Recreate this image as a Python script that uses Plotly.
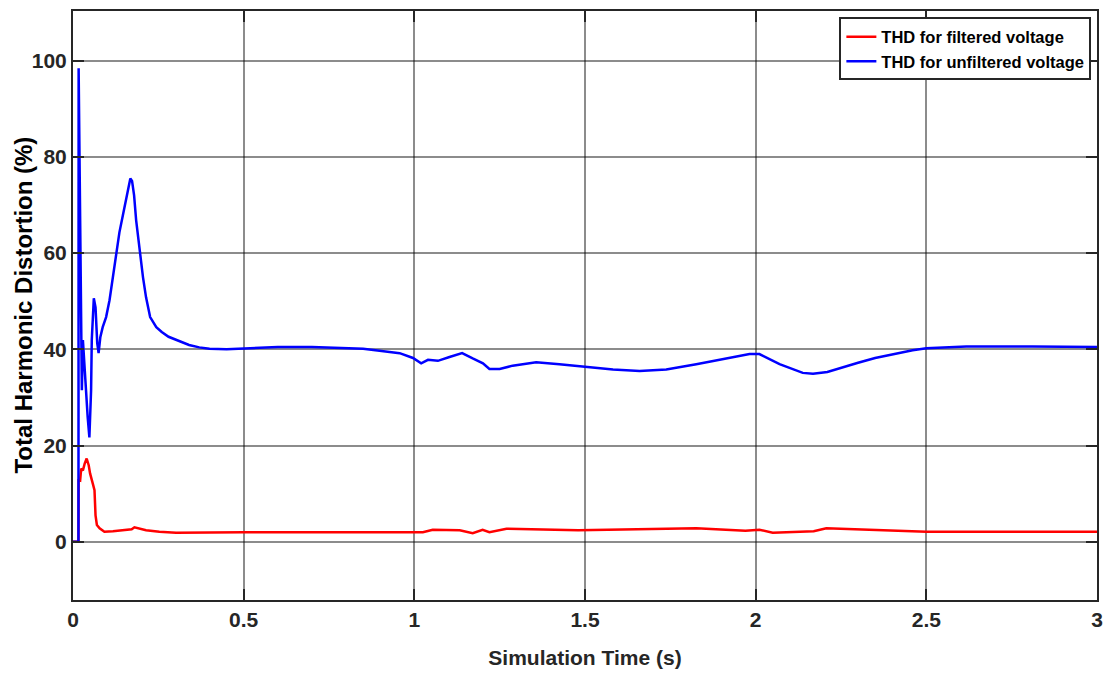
import plotly.graph_objects as go

# ---- data ----
t_unfiltered = [0, 0.016, 0.0165, 0.021, 0.023, 0.026, 0.029, 0.034, 0.039, 0.043,
                0.048, 0.053, 0.055, 0.061, 0.066, 0.071, 0.075, 0.080, 0.087, 0.097,
                0.107, 0.117, 0.127, 0.136, 0.146, 0.156, 0.163, 0.168, 0.173, 0.179,
                0.185, 0.195, 0.205, 0.214, 0.226, 0.244, 0.26, 0.28, 0.30, 0.32,
                0.34, 0.37, 0.40, 0.45, 0.50, 0.55, 0.60, 0.70, 0.80, 0.85,
                0.898, 0.957, 0.996, 1.020, 1.040, 1.069, 1.103, 1.140, 1.171, 1.201,
                1.220, 1.25, 1.288, 1.357, 1.425, 1.499, 1.582, 1.66, 1.738, 1.826,
                1.923, 1.982, 2.011, 2.07, 2.138, 2.168, 2.21, 2.246, 2.30, 2.35,
                2.42, 2.46, 2.50, 2.617, 2.81, 3.0]
thd_unfiltered = [0, 0, 98.4, 60.6, 45.4, 31.5, 41.9, 35.6, 30.0, 25.9,
                  21.7, 31.5, 41.9, 50.6, 48.7, 41.3, 39.2, 42.5, 44.6, 46.7,
                  50.2, 55.0, 59.9, 64.3, 67.8, 71.6, 74.0, 75.5, 75.0, 72.0,
                  66.8, 60.6, 55.0, 50.8, 46.7, 44.6, 43.6, 42.6, 42.0, 41.4,
                  40.9, 40.4, 40.1, 40.0, 40.2, 40.3, 40.5, 40.5, 40.3, 40.1,
                  39.7, 39.2, 38.2, 37.1, 37.8, 37.6, 38.4, 39.2, 38.1, 37.1,
                  35.9, 35.9, 36.6, 37.3, 36.9, 36.4, 35.8, 35.5, 35.8, 36.9,
                  38.3, 39.0, 39.0, 36.9, 35.1, 34.9, 35.3, 36.1, 37.2, 38.2,
                  39.3, 39.8, 40.2, 40.6, 40.6, 40.5]

t_filtered = [0, 0.016, 0.0165, 0.021, 0.024, 0.029, 0.034, 0.040, 0.046, 0.050,
              0.058, 0.063, 0.066, 0.070, 0.078, 0.092, 0.117, 0.156, 0.172, 0.180,
              0.195, 0.214, 0.253, 0.302, 0.50, 0.70, 1.0, 1.025, 1.054, 1.10,
              1.133, 1.171, 1.20, 1.22, 1.27, 1.48, 1.70, 1.826, 1.97, 2.011,
              2.05, 2.17, 2.207, 2.246, 2.5, 3.0]
thd_filtered = [0, 0, 13.0, 12.8, 15.2, 14.8, 16.2, 17.3, 15.9, 14.2,
                12.1, 10.7, 5.5, 3.5, 2.8, 2.1, 2.2, 2.4, 2.6, 3.0,
                2.7, 2.4, 2.1, 1.9, 2.0, 2.0, 2.1, 2.0, 2.5, 2.5,
                2.4, 1.8, 2.5, 2.0, 2.7, 2.4, 2.6, 2.8, 2.3, 2.5,
                1.9, 2.2, 2.8, 2.7, 2.1, 2.1]

x_ticks = [0, 0.5, 1, 1.5, 2, 2.5, 3]
x_tick_labels = ["0", "0.5", "1", "1.5", "2", "2.5", "3"]
y_ticks = [0, 20, 40, 60, 80, 100]
y_tick_labels = ["0", "20", "40", "60", "80", "100"]

FONT = "Liberation Sans, Arial, sans-serif"
DARK = "#262626"

fig = go.Figure()
fig.add_trace(go.Scatter(x=t_filtered, y=thd_filtered, mode="lines",
                         name="<b>THD for filtered voltage</b>",
                         line=dict(color="#FF0000", width=2.5)))
fig.add_trace(go.Scatter(x=t_unfiltered, y=thd_unfiltered, mode="lines",
                         name="<b>THD for unfiltered voltage</b>",
                         line=dict(color="#0000FF", width=2.5)))

axis_common = dict(
    showline=True, linecolor=DARK, linewidth=2, mirror="ticks",
    ticks="inside", ticklen=11, tickwidth=2, tickcolor=DARK,
    showgrid=True, gridcolor="rgba(0,0,0,0.45)", gridwidth=2,
    zeroline=False,
    tickfont=dict(family=FONT, size=21, color=DARK),
)

fig.update_xaxes(range=[0, 3], tickvals=x_ticks, ticktext=[f"<b>{s}</b>" for s in x_tick_labels],
                 title=dict(text="<b>Simulation Time (s)</b>", standoff=20,
                            font=dict(family=FONT, size=21, color=DARK)),
                 **axis_common)
fig.update_yaxes(range=[-12.1, 110.3], tickvals=y_ticks, ticktext=[f"<b>{s}</b>" for s in y_tick_labels],
                 **axis_common)

# y-axis title placed as rotated text to match the reference position
fig.add_annotation(text="<b>Total Harmonic Distortion (%)</b>", textangle=-90,
                   xref="paper", yref="paper", x=-0.0488, y=0.5,
                   xanchor="center", yanchor="middle", showarrow=False,
                   font=dict(family=FONT, size=24, color="#000000"))

fig.update_layout(
    width=1112, height=679,
    margin=dict(l=73, r=15, t=9, b=79),
    paper_bgcolor="white", plot_bgcolor="white",
    showlegend=True,
    legend=dict(x=0.9945, y=0.989, xanchor="right", yanchor="top",
                bgcolor="white", bordercolor=DARK, borderwidth=2,
                font=dict(family=FONT, size=16.5, color="#000000"),
                tracegroupgap=0, itemwidth=30),
)

fig.write_html("out.html")
